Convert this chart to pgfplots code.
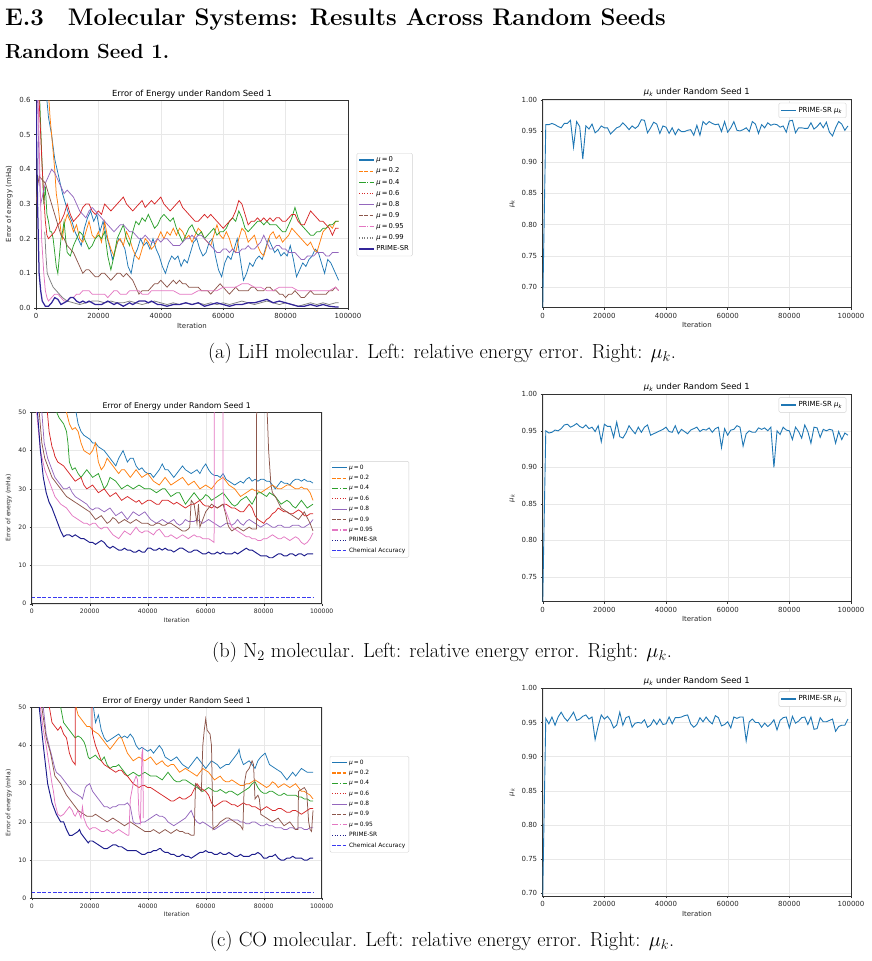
\RequirePackage{fix-cm}
\documentclass[border=0pt]{standalone}
\usepackage{fontspec}
\usepackage{pgfplots}
\pgfplotsset{compat=1.18}
\newfontfamily\plotfont{DejaVu Sans}

% matplotlib tab10 colours
\definecolor{c0}{HTML}{1F77B4}
\definecolor{c1}{HTML}{FF7F0E}
\definecolor{c2}{HTML}{2CA02C}
\definecolor{c3}{HTML}{D62728}
\definecolor{c4}{HTML}{9467BD}
\definecolor{c5}{HTML}{8C564B}
\definecolor{c6}{HTML}{E377C2}
\definecolor{c7}{HTML}{7F7F7F}
\definecolor{prime}{HTML}{33259A}
\definecolor{primedot}{HTML}{1C1C8C}
\definecolor{chem}{HTML}{3A3AF0}

\tikzset{
  mdash/.style={dash pattern=on 3.7pt off 1.6pt},
  mdashdot/.style={dash pattern=on 6.4pt off 1.6pt on 1pt off 1.6pt},
  mdot/.style={dash pattern=on 1pt off 1.65pt},
}

\pgfplotsset{
  mpl/.style={
    scale only axis, anchor=south west,
    xmin=0, xmax=100,
    xtick={0,20,40,60,80,100},
    xticklabels={0,20000,40000,60000,80000,100000},
    axis line style={black!80, line width=0.45pt},
    grid=major, major grid style={black!9, line width=0.35pt},
    tick align=outside, major tick length=2pt,
    tick style={black!80, line width=0.4pt},
    xtick pos=left, ytick pos=left,
    /pgf/number format/assume math mode=true,
    xlabel={Iteration},
    legend cell align=left,
    legend image code/.code={\draw[##1] (0pt,0pt) -- (14.5pt,0pt);},
  },
  big/.style={
    tick label style={font=\plotfont\fontsize{7}{8}\selectfont, text=black!85},
    label style={font=\plotfont\fontsize{7}{8}\selectfont, text=black!85},
    title style={font=\plotfont\fontsize{8.4}{9}\selectfont, yshift=-#1},
    xlabel style={yshift=3pt},
  },
  big/.default=7.5pt,
  small/.style={
    tick label style={font=\plotfont\fontsize{6.1}{7}\selectfont, text=black!85},
    label style={font=\plotfont\fontsize{6.1}{7}\selectfont, text=black!85},
    title style={font=\plotfont\fontsize{7.8}{9}\selectfont, yshift=-7.5pt},
    xlabel style={yshift=3pt},
  },
  errleg/.style n args={2}{legend style={at={(1.028,0.745)}, anchor=north west,
    font=\plotfont\fontsize{#1}{#1}\selectfont, draw=black!18, rounded corners=1.2pt,
    inner sep=1.5pt, row sep=#2, /tikz/every even column/.append style={column sep=2pt}}},
  muleg/.style={legend style={at={(0.985,0.985)}, anchor=north east,
    font=\plotfont\fontsize{7}{7}\selectfont, draw=black!18, rounded corners=1.2pt,
    inner sep=2pt}},
  mukax/.style={mpl, big=6.5pt,
    ylabel={\textit{μ}\textsubscript{\textit{k}}},
    title={\textit{μ}\textsubscript{\textit{k}} under Random Seed 1},
    yticklabel style={/pgf/number format/.cd, fixed, fixed zerofill, precision=2},
    muleg},
  curve/.style={line width=0.75pt, forget plot},
}

\newcommand{\mukey}[1]{\textit{μ}\,=\,#1}
% legend swatch with an explicit stroke colour
\newcommand{\swatch}[2]{\addlegendimage{draw=#1, line width=1.1pt, #2}}

\begin{document}
\begin{tikzpicture}[x=1pt,y=1pt]
\path[use as bounding box] (0,0) rectangle (871,-961);

% headings
\node[anchor=base west, inner sep=0pt] at (5,-25)
  {\fontsize{24}{29}\selectfont\bfseries E.3\hspace{1em}Molecular Systems: Results Across Random Seeds};
\node[anchor=base west, inner sep=0pt] at (5,-58)
  {\fontsize{20.4}{24}\selectfont\bfseries Random Seed 1.};

% ---------------- LiH: energy error ----------------
\begin{axis}[mpl, big, at={(36pt,-308pt)}, width=312pt, height=208pt,
  ymin=0, ymax=0.6, ytick={0,0.1,0.2,0.3,0.4,0.5,0.6},
  yticklabel style={/pgf/number format/.cd, fixed, fixed zerofill, precision=1},
  title={Error of Energy under Random Seed 1},
  ylabel={Error of energy (mHa)}, errleg={6.8}{0.6pt}]
\addplot[curve, c0] coordinates {(1,1.5) (3,0.75) (3.5,0.6) (4,0.55) (5,0.5) (6,0.43) (6.5,0.41) (7.5,0.37) (8.5,0.33) (9.5,0.3) (10.5,0.27) (11.5,0.25) (12.5,0.22) (13.5,0.2) (14.5,0.18) (15.5,0.23) (16.5,0.26) (17.5,0.28) (18.5,0.25) (19.5,0.27) (20.5,0.22) (21.5,0.25) (22.5,0.21) (23.5,0.18) (24.5,0.14) (25.5,0.17) (26.5,0.2) (27.5,0.19) (28.5,0.17) (29.5,0.12) (30.5,0.1) (31.5,0.15) (32.5,0.17) (33.5,0.2) (34.5,0.18) (35.5,0.19) (36.5,0.17) (37.5,0.2) (38.5,0.17) (39.5,0.15) (40.5,0.12) (41.5,0.1) (42.5,0.13) (43.5,0.15) (44.5,0.14) (45.5,0.15) (46.5,0.12) (47.5,0.14) (48.5,0.13) (49.5,0.16) (50.5,0.19) (51.5,0.2) (52.5,0.17) (53.5,0.15) (54.5,0.16) (55.5,0.19) (56.5,0.2) (57.5,0.15) (58.5,0.11) (59.5,0.09) (60.5,0.13) (61.5,0.15) (62.5,0.14) (63.5,0.17) (64.5,0.2) (65.5,0.14) (66.5,0.08) (67.5,0.1) (68.5,0.13) (69.5,0.12) (70.5,0.14) (71.5,0.15) (72.5,0.14) (73.5,0.17) (74.5,0.2) (75.5,0.18) (76.5,0.16) (77.5,0.17) (78.5,0.15) (79.5,0.16) (80.5,0.15) (81.5,0.18) (82.5,0.14) (83.5,0.09) (84.5,0.11) (85.5,0.13) (86.5,0.12) (87.5,0.14) (88.5,0.15) (89.5,0.17) (90.5,0.16) (91.5,0.13) (92.5,0.1) (93.5,0.14) (94.5,0.13) (95.5,0.11) (96.5,0.09) (97,0.08)};
\addplot[curve, c1] coordinates {(2,1.5) (4,0.62) (4.5,0.55) (5,0.5) (5.5,0.45) (6,0.4) (6.5,0.33) (7,0.3) (7.5,0.26) (8,0.22) (8.5,0.2) (9,0.24) (10,0.27) (11,0.25) (12,0.22) (13,0.24) (14,0.2) (15,0.19) (16,0.22) (17,0.25) (18,0.21) (19,0.2) (20,0.22) (21,0.19) (22,0.25) (23,0.2) (24,0.17) (25,0.15) (26,0.19) (27,0.2) (28,0.18) (29,0.22) (30,0.2) (31,0.17) (32,0.15) (33,0.14) (34,0.17) (35,0.2) (36,0.19) (37,0.17) (38,0.18) (39,0.2) (40,0.22) (41,0.2) (42,0.22) (43,0.21) (44,0.23) (45,0.21) (46,0.23) (47,0.22) (48,0.2) (49,0.21) (50,0.19) (51,0.21) (52,0.23) (53,0.22) (54,0.2) (55,0.19) (56,0.18) (57,0.21) (58,0.24) (59,0.21) (60,0.2) (61,0.22) (62,0.2) (63,0.17) (64,0.16) (65,0.2) (66,0.23) (67,0.22) (68,0.19) (69,0.2) (70,0.21) (71,0.18) (72,0.16) (73,0.15) (74,0.18) (75,0.21) (76,0.22) (77,0.2) (78,0.21) (79,0.19) (80,0.2) (81,0.21) (82,0.23) (83,0.22) (84,0.21) (85,0.2) (86,0.19) (87,0.18) (88,0.19) (89,0.17) (90,0.16) (91,0.19) (92,0.22) (93,0.23) (94,0.24) (95,0.23) (96,0.25) (97,0.25)};
\addplot[curve, c2] coordinates {(0.5,1.5) (1.2,0.6) (1.8,0.45) (2.5,0.3) (3,0.35) (3.5,0.27) (4,0.25) (4.5,0.22) (5,0.22) (5.5,0.2) (6,0.16) (6.5,0.12) (7,0.1) (7.5,0.15) (8,0.2) (8.5,0.22) (9,0.25) (9.5,0.2) (10,0.16) (11,0.15) (12,0.18) (13,0.2) (14,0.22) (15,0.21) (16,0.19) (17,0.17) (18,0.18) (19,0.2) (20,0.21) (21,0.2) (22,0.22) (23,0.15) (24,0.11) (25,0.15) (26,0.2) (27,0.22) (28,0.24) (29,0.2) (30,0.18) (31,0.22) (32,0.25) (33,0.24) (34,0.26) (35,0.25) (36,0.27) (37,0.25) (38,0.23) (39,0.24) (40,0.26) (41,0.27) (42,0.26) (43,0.25) (44,0.26) (45,0.23) (46,0.21) (47,0.19) (48,0.21) (49,0.23) (50,0.24) (51,0.22) (52,0.21) (53,0.22) (54,0.2) (55,0.21) (56,0.22) (57,0.23) (58,0.21) (59,0.22) (60,0.22) (61,0.23) (62,0.25) (63,0.26) (64,0.25) (65,0.28) (66,0.26) (67,0.23) (68,0.22) (69,0.23) (70,0.24) (71,0.25) (72,0.25) (73,0.24) (74,0.25) (75,0.24) (76,0.24) (77,0.24) (78,0.23) (79,0.22) (80,0.22) (81,0.24) (82,0.26) (83,0.29) (84,0.26) (85,0.24) (86,0.23) (87,0.22) (88,0.21) (89,0.21) (90,0.22) (91,0.22) (92,0.23) (93,0.23) (94,0.24) (95,0.24) (96,0.25) (97,0.25)};
\addplot[curve, c3] coordinates {(0.3,1.5) (1,0.6) (1.5,0.5) (2,0.4) (2.5,0.32) (3,0.25) (3.5,0.21) (4,0.2) (5,0.21) (6,0.22) (7,0.24) (8,0.25) (9,0.27) (10,0.3) (11,0.27) (12,0.25) (13,0.26) (14,0.27) (15,0.29) (16,0.3) (17,0.3) (18,0.28) (19,0.27) (20,0.28) (21,0.27) (22,0.3) (23,0.29) (24,0.28) (25,0.29) (26,0.3) (27,0.31) (28,0.32) (29,0.3) (30,0.29) (31,0.28) (32,0.29) (33,0.3) (34,0.31) (35,0.29) (36,0.3) (37,0.31) (38,0.3) (39,0.31) (40,0.32) (41,0.3) (42,0.29) (43,0.28) (44,0.29) (45,0.3) (46,0.31) (47,0.29) (48,0.28) (49,0.27) (50,0.26) (51,0.25) (52,0.25) (53,0.26) (54,0.27) (55,0.26) (56,0.27) (57,0.26) (58,0.25) (59,0.24) (60,0.23) (61,0.24) (62,0.25) (63,0.26) (64,0.28) (65,0.31) (66,0.3) (67,0.27) (68,0.24) (69,0.25) (70,0.25) (71,0.26) (72,0.25) (73,0.26) (74,0.25) (75,0.26) (76,0.25) (77,0.26) (78,0.26) (79,0.25) (80,0.25) (81,0.26) (82,0.27) (83,0.27) (84,0.25) (85,0.24) (86,0.24) (87,0.26) (88,0.28) (89,0.27) (90,0.26) (91,0.25) (92,0.25) (93,0.24) (94,0.23) (95,0.21) (96,0.23) (97,0.23)};
\addplot[curve, c4] coordinates {(0,1.2) (0.5,0.6) (1,0.4) (1.5,0.3) (2,0.32) (3,0.36) (4,0.38) (5,0.4) (6,0.39) (7,0.37) (8,0.35) (9,0.33) (10,0.34) (11,0.33) (12,0.32) (13,0.3) (14,0.28) (15,0.27) (16,0.26) (17,0.28) (18,0.29) (19,0.28) (20,0.27) (21,0.26) (22,0.25) (23,0.24) (24,0.23) (25,0.22) (26,0.23) (27,0.24) (28,0.24) (29,0.23) (30,0.22) (31,0.22) (32,0.21) (33,0.2) (34,0.2) (35,0.21) (36,0.2) (37,0.19) (38,0.19) (39,0.2) (40,0.19) (41,0.2) (42,0.2) (43,0.19) (44,0.18) (45,0.18) (46,0.18) (47,0.19) (48,0.2) (49,0.2) (50,0.21) (51,0.2) (52,0.21) (53,0.21) (54,0.2) (55,0.19) (56,0.18) (57,0.17) (58,0.16) (59,0.16) (60,0.17) (61,0.17) (62,0.16) (63,0.17) (64,0.16) (65,0.16) (66,0.17) (67,0.17) (68,0.18) (69,0.17) (70,0.17) (71,0.18) (72,0.19) (73,0.21) (74,0.19) (75,0.17) (76,0.17) (77,0.18) (78,0.18) (79,0.17) (80,0.17) (81,0.16) (82,0.16) (83,0.16) (84,0.15) (85,0.14) (86,0.14) (87,0.15) (88,0.15) (89,0.15) (90,0.16) (91,0.16) (92,0.16) (93,0.15) (94,0.15) (95,0.16) (96,0.16) (97,0.16)};
\addplot[curve, c5] coordinates {(0,0.3) (0.5,0.35) (1,0.38) (2,0.37) (3,0.36) (4,0.33) (5,0.3) (6,0.27) (7,0.24) (8,0.21) (9,0.2) (10,0.18) (11,0.17) (12,0.16) (13,0.14) (14,0.12) (15,0.1) (16,0.11) (17,0.11) (18,0.1) (19,0.09) (20,0.09) (21,0.1) (22,0.1) (23,0.09) (24,0.08) (25,0.09) (26,0.1) (27,0.1) (28,0.09) (29,0.1) (30,0.09) (31,0.08) (32,0.06) (33,0.04) (34,0.05) (35,0.05) (36,0.05) (37,0.06) (38,0.07) (39,0.07) (40,0.08) (41,0.07) (42,0.06) (43,0.07) (44,0.08) (45,0.07) (46,0.08) (47,0.07) (48,0.07) (49,0.06) (50,0.06) (51,0.06) (52,0.06) (53,0.05) (54,0.05) (55,0.05) (56,0.04) (57,0.05) (58,0.06) (59,0.07) (60,0.06) (61,0.05) (62,0.04) (63,0.05) (64,0.06) (65,0.05) (66,0.05) (67,0.05) (68,0.05) (69,0.06) (70,0.06) (71,0.05) (72,0.05) (73,0.05) (74,0.06) (75,0.06) (76,0.05) (77,0.05) (78,0.04) (79,0.04) (80,0.03) (81,0.04) (82,0.04) (83,0.05) (84,0.04) (85,0.03) (86,0.03) (87,0.04) (88,0.05) (89,0.04) (90,0.04) (91,0.04) (92,0.04) (93,0.04) (94,0.05) (95,0.05) (96,0.06) (97,0.05)};
\addplot[curve, c6] coordinates {(0,1.2) (0.7,0.6) (1.2,0.4) (1.8,0.2) (2.5,0.1) (3,0.05) (3.5,0.03) (4,0.02) (5,0.03) (6,0.04) (7,0.04) (8,0.03) (9,0.02) (10,0.02) (11,0.03) (12,0.03) (13,0.04) (14,0.04) (15,0.05) (16,0.05) (17,0.05) (18,0.04) (19,0.04) (20,0.04) (21,0.04) (22,0.04) (23,0.03) (24,0.04) (25,0.05) (26,0.05) (27,0.04) (28,0.04) (29,0.04) (30,0.05) (31,0.05) (32,0.05) (33,0.05) (34,0.04) (35,0.04) (36,0.04) (37,0.05) (38,0.05) (39,0.05) (40,0.05) (42,0.05) (44,0.05) (46,0.04) (48,0.04) (50,0.04) (52,0.05) (54,0.05) (56,0.05) (58,0.05) (60,0.06) (62,0.06) (64,0.06) (66,0.07) (68,0.07) (70,0.06) (72,0.06) (74,0.05) (76,0.05) (78,0.06) (80,0.06) (82,0.06) (84,0.05) (86,0.05) (88,0.05) (90,0.05) (92,0.05) (94,0.05) (96,0.06) (97,0.05)};
\addplot[curve, c7] coordinates {(2.8,0.22) (3.2,0.15) (3.6,0.1) (4.5,0.08) (5.5,0.06) (6.5,0.05) (7.5,0.04) (8.5,0.03) (10,0.02) (12,0.015) (14,0.01) (16,0.015) (18,0.02) (20,0.02) (22,0.015) (24,0.02) (26,0.015) (28,0.015) (30,0.02) (32,0.015) (34,0.01) (36,0.015) (38,0.02) (40,0.015) (42,0.01) (44,0.015) (46,0.01) (48,0.015) (50,0.01) (52,0.015) (54,0.01) (56,0.015) (58,0.01) (60,0.015) (62,0.01) (64,0.015) (66,0.02) (68,0.015) (70,0.01) (72,0.015) (74,0.02) (76,0.015) (78,0.01) (80,0.015) (82,0.01) (84,0.005) (86,0.01) (88,0.015) (90,0.01) (92,0.015) (94,0.01) (96,0.015) (97,0.015)};
\addplot[curve, prime, line width=1.25pt] coordinates {(0,0.6) (0.5,0.3) (1,0.1) (1.5,0.05) (2,0.02) (3,0.005) (4,0.005) (5,0.015) (6,0.03) (7,0.025) (8,0.01) (9,0.015) (10,0.02) (11,0.03) (12,0.03) (13,0.02) (14,0.015) (15,0.02) (16,0.015) (17,0.02) (18,0.015) (19,0.01) (20,0.01) (21,0.01) (22,0.015) (23,0.02) (24,0.015) (25,0.01) (26,0.015) (27,0.01) (28,0.005) (29,0.01) (30,0.015) (31,0.01) (32,0.015) (33,0.02) (34,0.02) (35,0.02) (36,0.015) (37,0.02) (38,0.015) (39,0.01) (40,0.01) (42,0.005) (44,0.01) (46,0.01) (48,0.015) (50,0.01) (52,0.015) (54,0.005) (56,0.01) (58,0.015) (60,0.01) (62,0.005) (64,0.01) (66,0.01) (68,0.015) (70,0.015) (72,0.02) (74,0.025) (76,0.015) (78,0.02) (80,0.015) (82,0.01) (84,0.005) (86,0.005) (88,0.01) (90,0.005) (92,0.01) (94,0.005) (96,0.003) (97,0.003)};
\swatch{c0}{}\addlegendentry{\mukey{0}}
\swatch{c1}{mdash}\addlegendentry{\mukey{0.2}}
\swatch{c2}{mdashdot}\addlegendentry{\mukey{0.4}}
\swatch{c3}{mdot}\addlegendentry{\mukey{0.6}}
\swatch{c4}{}\addlegendentry{\mukey{0.8}}
\swatch{c5}{mdash}\addlegendentry{\mukey{0.9}}
\swatch{c6}{mdashdot}\addlegendentry{\mukey{0.95}}
\swatch{c7}{mdot}\addlegendentry{\mukey{0.99}}
\swatch{prime}{line width=1.4pt}\addlegendentry{PRIME-SR}
\end{axis}

% ---------------- LiH: mu_k ----------------
\begin{axis}[mukax, at={(542.7pt,-307.7pt)}, width=308.3pt, height=208pt,
  ymin=0.667, ymax=1.0, ytick={0.7,0.75,0.8,0.85,0.9,0.95,1.0}]
\addplot[c0, line width=0.9pt, forget plot] table[row sep=\\, header=false, x expr=\coordindex, y index=0] {
0.667\\0.960\\0.960\\0.962\\0.960\\0.957\\0.955\\0.962\\0.962\\0.967\\
0.924\\0.965\\0.957\\0.905\\0.958\\0.953\\0.961\\0.947\\0.951\\0.958\\
0.955\\0.955\\0.945\\0.950\\0.955\\0.957\\0.963\\0.958\\0.952\\0.958\\
0.954\\0.958\\0.968\\0.967\\0.947\\0.955\\0.964\\0.961\\0.946\\0.958\\
0.956\\0.946\\0.955\\0.944\\0.953\\0.949\\0.949\\0.951\\0.952\\0.943\\
0.959\\0.943\\0.965\\0.960\\0.965\\0.962\\0.960\\0.961\\0.949\\0.965\\
0.948\\0.955\\0.965\\0.951\\0.950\\0.952\\0.955\\0.949\\0.965\\0.961\\
0.946\\0.960\\0.955\\0.963\\0.959\\0.961\\0.960\\0.956\\0.958\\0.948\\
0.966\\0.967\\0.947\\0.955\\0.955\\0.954\\0.954\\0.963\\0.953\\0.957\\
0.963\\0.955\\0.964\\0.948\\0.942\\0.955\\0.965\\0.961\\0.951\\0.958\\
};
\swatch{c0}{}\addlegendentry{PRIME-SR \textit{μ}\textsubscript{\textit{k}}}
\end{axis}

% ---------------- N2: energy error ----------------
\begin{axis}[mpl, small, at={(31.7pt,-603.7pt)}, width=290pt, height=191.4pt,
  ymin=0, ymax=50, ytick={0,10,20,30,40,50},
  title={Error of Energy under Random Seed 1},
  ylabel={Error of energy (mHa)}, errleg={5.9}{0.5pt}]
\addplot[curve, c0] coordinates {(14,60) (15.3,50) (16,47) (17,45) (18,44) (19,43.5) (20,43) (21,42) (22,42) (23,41) (24,40.5) (25,40) (26,39) (27,38) (28,37) (29,36) (30,38) (31.5,40) (32,39) (33,37) (34,38) (35,38) (36,36) (37,35) (38,35.5) (39,34.5) (40,34) (41,34) (42,33) (43,34) (44,35) (45,36.5) (46,35) (47,35) (48,34) (49,33) (50,34) (51,35) (52,36) (53,35) (54,34.5) (55,34) (56,34.5) (57,35) (58,34) (59,35.5) (60,36.5) (61,35) (62,34) (63,33.5) (64,33.5) (65,33) (66,34) (67,32.5) (68,32) (69,31.5) (70,31) (71,31.5) (72,32) (73,31.5) (74,32.5) (75,33) (76,32) (77,32.5) (78,32) (79,32.5) (80,32.5) (81,32) (82,32) (83,31) (84,30) (85,31) (86,32) (87,31.5) (88,31.5) (89,31) (90,32) (91,32.5) (92,32.5) (93,32) (94,32.5) (95,32) (96,32) (97,31.5)};
\addplot[curve, c1] coordinates {(11,60) (12,50) (13,47) (14,45.5) (15,46) (16,45) (17,42) (18,40) (19,39.5) (20,39) (21,40) (22,42) (23,37) (24,35) (25,36) (26,38) (27,37) (28,36) (29,35) (30,34) (31,35) (32,35) (33,34) (34,33) (35,34) (36,35) (37,34) (38,33) (39,33.5) (40,34) (41,33) (42,32) (43,31.5) (44,31) (45,32) (46,33) (47,32) (48,31) (49,31.5) (50,32) (51,32.5) (52,33) (53,32) (54,31) (55,31.5) (56,32) (57,31) (58,30) (59,30.5) (60,31) (61,30.5) (62,30) (63,31) (64,32) (65,32.5) (66,33) (67,32) (68,31) (69,30.5) (70,30) (71,29) (72,28) (73,28.5) (74,29) (75,29.5) (76,30) (77,29.5) (78,29.5) (79,29) (80,29.5) (81,30) (82,30.5) (83,31) (84,30.5) (85,30) (86,30) (87,30.5) (88,31) (89,31) (90,30.5) (91,30) (92,30) (93,30.5) (94,30) (95,30) (96,29) (97,27)};
\addplot[curve, c2] coordinates {(8,60) (8.6,50) (9.5,48.5) (10,48) (11,47) (12,45) (12.5,42) (13,37) (14,35) (15,35.5) (16,34) (17,33) (18,34) (19,35) (20,34) (21,33) (22,33.5) (23,34) (24,32) (25,30) (26,31) (27,33) (28,32.5) (29,32) (30,31) (31,30) (32,30.5) (33,31) (34,30.5) (35,30) (36,30.5) (37,31) (38,30.5) (39,30) (40,30) (41,30) (42,29.5) (43,29) (44,29.5) (45,30) (46,30) (47,29) (48,28) (49,28.5) (50,29) (51,29) (52,27.5) (53,26) (54,27) (55,28) (56,29) (57,28) (58,27) (59,27.5) (60,28.5) (61,28) (62,27) (63,27.5) (64,28) (65,28.5) (66,29) (67,28) (68,27) (69,26) (70,25.5) (71,26) (72,27) (73,27.5) (74,28) (75,27) (76,26) (77,27.5) (78,29) (79,29) (80,28.5) (81,28) (82,29) (83,28.5) (84,28) (85,27) (86,26) (87,26.5) (88,27) (89,26.5) (90,25.5) (91,25) (92,26) (93,27) (94,26) (95,25) (96,25.5) (97,26)};
\addplot[curve, c3] coordinates {(4.5,60) (5.4,50) (6,45) (7,41) (7.5,40) (8,38.5) (9,37) (10,36.5) (11,36) (12,35) (13,34) (14,33) (15,32) (16,32.5) (17,33) (18,31) (19,30) (20,30.5) (21,31) (22,30) (23,29) (24,29.5) (25,30) (26,29) (27,28) (28,28.5) (29,29) (30,28) (31,27) (32,27.5) (33,28) (34,27.5) (35,27) (36,26.5) (37,27) (38,26) (39,26.5) (40,27) (41,27) (42,26.5) (43,26) (44,26) (45,27) (46,27) (47,27) (48,26.5) (49,26) (50,26.5) (51,26) (52,25.5) (53,25) (54,25.5) (55,26) (56,26) (57,26.5) (58,27) (59,26) (60,25.5) (61,25.5) (62,25) (63,25.5) (64,25) (65,25.5) (66,26) (67,26) (68,25.5) (69,25) (70,25) (71,24.5) (72,24) (73,24) (74,25) (75,26) (76,25) (77,23) (78,22) (79,21.5) (80,21) (81,22) (82,22.5) (83,23.5) (84,24) (85,25) (86,24.5) (87,24) (88,24) (89,23.5) (90,23.5) (91,24) (92,24.5) (93,24) (94,23) (95,23) (96,23.5) (97,23.5)};
\addplot[curve, c4] coordinates {(3,60) (3.5,50) (4.3,42) (5.5,38) (7,35) (8,33) (9,32) (10,31) (11,30) (12,30) (13,30.5) (14,29) (15,28) (16,27.5) (17,27) (18,26.5) (19,26) (20,25) (21,24.5) (22,25) (23,25) (24,24.5) (25,24) (26,24.5) (27,25) (28,24) (29,23) (30,23.5) (31,24) (32,23) (33,22) (34,23) (35,24) (36,23.5) (37,23) (38,23.5) (39,24) (40,23) (41,22) (42,21.5) (43,21) (44,21.5) (45,22) (46,21.5) (47,21) (48,21.5) (49,22) (50,21) (51,20.5) (52,21) (53,22) (54,21.5) (55,21.5) (56,21.5) (57,22) (58,21.5) (59,21) (60,21.5) (61,22) (62,21.5) (63,21) (64,20.5) (65,20) (66,20.5) (67,21) (68,21) (69,20.5) (70,21) (71,22) (72,21) (73,20.5) (74,21.5) (75,22) (76,21.5) (77,21) (78,20.5) (79,20) (80,20.5) (81,21) (82,20.5) (83,20) (84,20) (85,20.5) (86,20.5) (87,20) (88,20) (89,20) (90,20.5) (91,20.5) (92,20.5) (93,20) (94,20) (95,20.5) (96,21) (97,22)};
\addplot[curve, c5] coordinates {(2,60) (2.6,50) (3.5,42) (4.5,38) (6,35) (7,33) (8,32) (9,31) (10,30) (11,29) (12,28) (13,27.5) (14,27) (15,26.5) (16,26) (17,25.5) (18,25) (19,24.5) (20,24) (21,23) (22,22) (23,22.5) (24,23) (25,22) (26,21) (27,21.5) (28,22.5) (29,22) (30,21) (31,21.5) (32,22) (33,21.5) (34,21) (35,21.5) (36,22) (37,21.5) (38,21) (39,21) (40,21) (41,20.5) (42,20.5) (43,21) (44,21) (45,20.5) (46,20.5) (47,21) (48,21) (49,20.5) (50,20) (51,19.5) (52,19) (53,19) (54,19.5) (54.5,20) (55,27) (56,26) (57,21) (57.5,26) (58,20) (59,22) (60,24) (61,25) (62,26) (63,25.5) (64,25) (65,25.5) (66,26) (67,23) (67.5,21) (68,20) (69,19) (70,19.5) (71,20) (72,19.5) (73,19) (74,19.5) (75,20) (76,19.5) (77,19.5) (77.5,19.5) (77.6,70) (81,70) (81.2,50) (81.7,40) (82.5,31) (83,29) (84,28) (85,26.5) (86,25) (87,24.5) (88,24) (89,23.5) (90,23) (91,22.5) (92,22) (93,23) (94,24) (95,22.5) (96,21) (97,19)};
\addplot[curve, c6] coordinates {(1,60) (1.7,50) (3,40) (4.5,35) (6,32) (7,30) (8,28) (9,27) (10,26) (11,25.5) (12,25) (13,24) (14,23) (15,22.5) (16,22) (17,21.5) (18,21) (19,21) (20,20.5) (21,21) (22,21) (23,20) (24,19.5) (25,20) (26,20) (27,19) (28,18) (29,17.5) (30,17) (31,18) (32,19) (33,18.5) (34,18) (35,19) (36,20) (37,19) (38,18.5) (39,19) (40,19) (41,18.5) (42,18) (43,19) (44,19.5) (45,18.5) (46,17.5) (47,17.5) (48,18) (49,17.5) (50,17) (51,17.5) (52,18) (53,17.5) (54,17) (55,17.5) (56,18) (57,17.5) (58,17.5) (59,17) (60,17) (61,17) (62,16.5) (62.9,16) (63,70) (65.9,70) (66,30) (66.5,25) (67,24) (68,22) (69,20) (70,19.5) (71,19) (72,18.5) (73,18) (74,17.5) (75,17.5) (76,17) (77,17) (78,16.5) (79,16.5) (80,17) (81,17) (82,17.5) (83,18) (84,17.5) (85,17) (86,17) (87,17.5) (88,17) (89,16.5) (90,17) (91,17.5) (92,17) (93,16) (94,15.5) (95,16) (96,17) (97,18.5)};
\addplot[curve, primedot, line width=0.95pt] coordinates {(1.5,60) (2,50) (3,40) (4,33) (5,29) (6,26.5) (7,25) (8,23) (9,21) (10,19) (11,17.5) (12,18) (13,18) (14,17.5) (15,18) (16,17.5) (17,17) (18,17) (19,16.5) (20,16) (21,16) (22,15.5) (23,16) (24,16.5) (25,16) (26,15) (27,14.5) (28,15) (29,14.5) (30,14) (31,14) (32,14.5) (33,14) (34,14) (35,13.5) (36,13.5) (37,14) (38,13.5) (39,13.5) (40,14.5) (41,14.5) (42,14) (43,14) (44,14.5) (45,14) (46,14.5) (47,14) (48,14) (49,13.5) (50,14) (51,14.5) (52,14.5) (53,14) (54,13.5) (55,13.5) (56,14) (57,14) (58,13.5) (59,13) (60,13) (61,13.5) (62,13) (63,13) (64,13.5) (65,13) (66,13.5) (67,13) (68,13) (69,13) (70,13.5) (71,13) (72,13.5) (73,14) (74,14.5) (75,14) (76,14) (77,13.5) (78,13) (79,12.5) (80,12.5) (81,12.5) (82,12) (83,12) (84,12.5) (85,13) (86,13) (87,12.5) (88,12.5) (89,13) (90,13) (91,12.5) (92,13) (93,13) (94,12.5) (95,13) (96,13) (97,13)};
\addplot[curve, chem, line width=0.8pt, mdash] coordinates {(0,1.6) (97,1.6)};
\swatch{c0}{}\addlegendentry{\mukey{0}}
\swatch{c1}{mdash}\addlegendentry{\mukey{0.2}}
\swatch{c2}{mdashdot}\addlegendentry{\mukey{0.4}}
\swatch{c3}{mdot}\addlegendentry{\mukey{0.6}}
\swatch{c4}{}\addlegendentry{\mukey{0.8}}
\swatch{c5}{mdash}\addlegendentry{\mukey{0.9}}
\swatch{c6}{mdashdot}\addlegendentry{\mukey{0.95}}
\swatch{primedot}{mdot}\addlegendentry{PRIME-SR}
\swatch{chem}{mdash}\addlegendentry{Chemical Accuracy}
\end{axis}

% ---------------- N2: mu_k ----------------
\begin{axis}[mukax, at={(542.7pt,-601.7pt)}, width=308.3pt, height=207.4pt,
  ymin=0.716, ymax=1.0, ytick={0.75,0.8,0.85,0.9,0.95,1.0}]
\addplot[c0, line width=0.9pt, forget plot] table[row sep=\\, header=false, x expr=\coordindex, y index=0] {
0.716\\0.950\\0.947\\0.948\\0.951\\0.950\\0.953\\0.958\\0.959\\0.955\\
0.957\\0.960\\0.956\\0.954\\0.958\\0.953\\0.955\\0.949\\0.957\\0.935\\
0.959\\0.956\\0.956\\0.941\\0.962\\0.942\\0.940\\0.947\\0.957\\0.951\\
0.946\\0.955\\0.948\\0.955\\0.958\\0.944\\0.946\\0.948\\0.950\\0.952\\
0.955\\0.949\\0.948\\0.957\\0.946\\0.952\\0.949\\0.946\\0.951\\0.953\\
0.955\\0.949\\0.952\\0.951\\0.954\\0.948\\0.953\\0.955\\0.927\\0.953\\
0.944\\0.951\\0.952\\0.957\\0.955\\0.929\\0.946\\0.950\\0.948\\0.948\\
0.954\\0.952\\0.954\\0.950\\0.955\\0.900\\0.950\\0.945\\0.955\\0.951\\
0.950\\0.938\\0.955\\0.949\\0.940\\0.958\\0.949\\0.933\\0.955\\0.954\\
0.941\\0.952\\0.950\\0.952\\0.951\\0.933\\0.949\\0.938\\0.947\\0.944\\
};
\swatch{c0}{}\addlegendentry{PRIME-SR \textit{μ}\textsubscript{\textit{k}}}
\end{axis}

% ---------------- CO: energy error ----------------
\begin{axis}[mpl, small, at={(31.7pt,-898.3pt)}, width=290pt, height=191pt,
  ymin=0, ymax=50, ytick={0,10,20,30,40,50},
  title={Error of Energy under Random Seed 1},
  ylabel={Error of energy (mHa)}, errleg={5.9}{0.5pt}]
\addplot[curve, c0] coordinates {(20,60) (21.3,50) (22,46) (23,48) (24,44) (25,42) (26,41) (27,41.5) (28,42) (29,42.5) (30,43) (31,42) (32,42.5) (33,42) (34,43) (35,42) (36,40) (37,39) (38,39.5) (39,39) (40,38.5) (41,39) (42,38) (43,39) (44,40) (45,39) (46,37) (47,36.5) (48,36) (49,36.5) (50,37) (51,36) (52,35) (53,34.5) (54,34) (55,35) (56,36) (57,37) (58,36) (59,35) (60,34) (61,35) (62,36) (63,35.5) (64,35) (65,34) (66,34.5) (67,35) (68,35) (69,36) (70,37) (71,38) (71.5,39) (72,37) (73,35) (74,35.5) (75,36) (76,35) (77,34) (78,36) (79,37) (80.5,38) (81,37) (82,35) (83,34.5) (84,34) (85,33.5) (86,33) (87,32) (88,31) (89,32) (90,33) (91,32) (92,33) (93,34) (94,33.5) (95,33) (96,33) (97,33)};
\addplot[curve, c1] coordinates {(14.5,60) (15.3,50) (16,48) (17,47) (18,46) (19,45) (20,45) (21,44) (22,43.5) (23,43) (24,42) (25,41) (26,40) (27,39) (28,40) (29,41) (30,42) (31,42) (32,40) (33,38) (34,37) (35,36) (36,36.5) (37,37) (38,36.5) (39,36) (40,36.5) (41,37) (42,36) (43,35) (44,35.5) (45,36) (46,35) (47,34.5) (48,35) (49,35) (50,34) (51,33) (52,33.5) (53,34) (54,33.5) (55,33) (56,32.5) (57,32) (58,33) (59,34) (60,33.5) (61,33) (62,32) (63,31) (64,31.5) (65,32) (66,31) (67,30.5) (68,30.5) (69,31) (70,30.5) (71,30) (72,29.5) (73,29.5) (74,30) (75,30) (76,30.5) (77,31) (78,30.5) (79,30) (80,29.5) (81,29) (82,29.5) (83,30.5) (84,30) (85,29) (86,29.5) (87,30) (88,29.5) (89,29) (90,29.5) (91,30) (92,29) (93,28) (94,28) (95,27.5) (96,27) (97,26)};
\addplot[curve, c2] coordinates {(9.5,60) (10,50) (11,46) (12,45) (13,44) (14,43) (15,42) (16,42.5) (17,42) (18,41) (18.5,40) (19.5,37) (20,36.5) (21,37) (22,37.5) (23,36.5) (24,36) (25,37) (26,35) (27,34) (28,34.5) (29,34.5) (30,35) (31,34) (32,33) (33,32) (34,32.5) (35,33) (36,32.5) (37,32) (38,32.5) (39,33) (40,32.5) (41,32) (42,32) (43,32) (44,31.5) (45,31) (46,32) (47,33) (48,32) (49,31) (50,30.5) (51,30.5) (52,31) (53,31) (54,30.5) (55,30) (56,29.5) (57,29) (58,28.5) (59,28) (60,28.5) (61,29) (62,28.5) (63,28) (64,28) (65,28.5) (66,28) (67,27.5) (68,28) (69,28) (70,27.5) (71,27) (72,27.5) (73,28) (74,28.5) (75,29) (76,30) (77,30.5) (78,29) (79,28) (80,27.5) (81,27.5) (82,28) (83,28) (84,27.5) (85,27) (86,27) (87,27.5) (88,27) (89,27) (90,27) (91,27) (92,26.5) (93,26.5) (94,26) (95,26) (96,25.5) (97,25.5)};
\addplot[curve, c3] coordinates {(5,60) (6.1,50) (7,46) (8,45) (9,44) (10,45) (11,43) (12,42) (13,38) (14,36) (15,35) (15.05,70) (20.7,70) (20.8,45) (21,43) (22,40) (23,38) (24,36) (25,35) (26,34.5) (27,34) (28,33.5) (29,33) (30,33.5) (31,33.5) (32,32.5) (33,32) (34,31) (35,30) (36,29.5) (37,29) (38,29.5) (39,29.5) (40,29) (41,29) (42,28.5) (43,28) (44,27.5) (45,27) (46,26.5) (47,26) (48,25.5) (49,25.5) (50,26) (51,26.5) (52,26) (53,26) (54,26.5) (55,27) (56,28.5) (57,30) (58,29) (59,28.5) (60,28) (61,27) (62,25) (63,24) (64,24.5) (65,25) (66,25.5) (67,25.5) (68,25) (69,24.5) (70,24.5) (71,24) (72,24.5) (73,25) (74,24.5) (75,24.5) (76,24) (77,24) (78,23.5) (79,23) (80,23.5) (81,24) (82,23.5) (83,23) (84,23) (85,23.5) (86,23.5) (87,23) (88,22.5) (89,22.5) (90,23) (91,23) (92,22.5) (93,22) (94,22.5) (95,23) (96,23.5) (97,23.5)};
\addplot[curve, c4] coordinates {(3.5,60) (4,50) (5,43) (6,40) (7,37) (8,34) (8.5,33) (10,32) (11,31) (12,30) (13,29) (14,28) (15,27.5) (16,27) (17,26.5) (17.5,26) (18.5,29) (19,29.5) (20,30) (21,28) (22,27) (23,26) (24,25) (25,24) (26,24) (27,23.5) (28,24) (29,24) (30,24.5) (31,24.5) (32,24.5) (33,25) (34,24) (35,20) (36,19.5) (37,19.5) (38,20) (39,20) (40,20.5) (41,21) (42,21.5) (43,22) (44,21.5) (45,21.5) (46,21) (47,20) (48,19.5) (49,19) (50,19.5) (51,20) (52,20.5) (53,21) (54,22) (55,23) (56,21) (57,20) (58,19.5) (59,20) (60,19.5) (61,19) (62,18.5) (63,18) (64,18.5) (65,19) (66,19.5) (67,20) (68,20.5) (69,20.5) (70,20.5) (71,20.5) (72,20) (73,20) (74,19.5) (75,19.5) (76,20) (77,20) (78,19.5) (79,19) (80,19) (81,19.5) (82,19) (83,19) (84,18.5) (85,18.5) (86,18.5) (87,18) (88,18) (89,18.5) (90,18.5) (91,18) (92,18.5) (93,18.5) (94,18) (95,18) (96,18.5) (97,18.5)};
\addplot[curve, c5] coordinates {(3,60) (3.5,50) (5,42) (6.5,38) (8,32) (9,31) (10,30) (11,28.5) (12,27) (13,26) (14,25) (15,24) (16,23) (17,22.5) (18,22) (19,21.5) (20,21.5) (21,21.5) (22,22) (23,21.5) (24,21) (25,20.5) (26,20) (27,20.5) (28,21) (29,20.5) (30,20) (31,19.5) (32,19) (33,19.5) (34,20) (35,19.5) (36,19) (37,18.5) (38,18) (39,17.5) (40,17.5) (41,17.5) (42,18) (43,17.5) (44,17) (45,17.5) (46,18) (47,17.5) (48,17) (49,17.5) (50,18) (51,17.5) (52,17.5) (53,17) (54,17) (55,16.5) (56,16.5) (56.5,30) (57.5,29) (58.5,28) (59,40) (59.5,44) (60,47) (60.5,44) (61.5,43) (62,40) (62.5,18) (63,18.5) (64,19) (65,20) (66,20.5) (67,21) (68,21) (69,20.5) (70,20) (71,19.5) (72,19) (72.8,18) (73.3,30) (74,33) (75,34) (76,36) (76.5,35) (77,26) (78,27) (78.5,26) (79,22) (80,21.5) (81,21) (82,20.5) (83,20) (84,20.5) (85,21) (86,20) (87,19) (88,19.5) (89,20) (90,19) (91,18) (91.8,18) (92,28) (93,28.5) (94,29) (94.8,28) (95.5,20) (96,18) (96.5,17.5) (97,23)};
\addplot[curve, c6] coordinates {(2.5,60) (3,50) (4,44) (5,40) (6,35) (7,30) (7.5,28) (8,25) (9,22) (10,21.5) (11,22) (12,23) (13,24) (14,23) (14.5,22) (15,21.5) (16,23) (17,21) (17.5,24) (18,21) (19,19) (20,18) (21,18.5) (22,18.5) (23,18) (24,17.5) (25,17.5) (26,18) (27,17.5) (28,17) (29,17.5) (30,18) (31,17.5) (32,17) (33,16.5) (33.5,16.5) (34,26) (35,30) (36,32) (36.5,31) (37,22) (37.5,20) (38,38) (38.3,39) (38.5,21)};
\addplot[curve, primedot, line width=0.95pt] coordinates {(2,60) (2.6,50) (4,40) (5.5,30) (7,25) (8.5,22) (10,20) (11,20) (12,18) (13,16.5) (14,16.5) (15,17) (16,17.5) (16.5,18) (17,17) (18,16) (19,15) (19.5,14.5) (20,15) (21,15) (22,14.5) (23,14) (24,13.5) (25,13) (26,13) (27,13.5) (28,14) (29,14) (30,13.5) (31,13.5) (32,13) (33,12.5) (34,12.5) (35,12.5) (36,12.5) (37,12) (38,11.5) (39,11.5) (40,12) (41,12) (42,12.5) (43,12.5) (44,13) (44.5,13) (45,12.5) (46,12) (47,12) (48,11.5) (49,11.5) (50,11) (51,11) (52,11.5) (53,11) (54,11) (55,10.5) (56,11) (57,11.5) (58,12) (59,12) (60,12.5) (61,12) (62,12) (63,11.5) (64,11.5) (65,12) (66,11.5) (67,11.5) (68,12) (69,11.5) (70,11) (71,11) (72,11.5) (73,11) (74,11) (75,11) (76,11.5) (77,11.5) (78,12) (79,11.5) (80,10.5) (81,10.5) (82,11) (83,11) (84,11.5) (85,10.5) (86,10) (87,10) (88,10.5) (89,10.5) (90,11) (91,10.5) (92,10.5) (93,10.5) (94,10) (95,10) (96,10.5) (97,10.5)};
\addplot[curve, chem, line width=0.8pt, mdash] coordinates {(0,1.6) (97,1.6)};
\swatch{c0}{}\addlegendentry{\mukey{0}}
\swatch{c1}{mdash}\addlegendentry{\mukey{0.2}}
\swatch{c2}{mdashdot}\addlegendentry{\mukey{0.4}}
\swatch{c3}{mdot}\addlegendentry{\mukey{0.6}}
\swatch{c4}{}\addlegendentry{\mukey{0.8}}
\swatch{c5}{mdash}\addlegendentry{\mukey{0.9}}
\swatch{c6}{mdashdot}\addlegendentry{\mukey{0.95}}
\swatch{primedot}{mdot}\addlegendentry{PRIME-SR}
\swatch{chem}{mdash}\addlegendentry{Chemical Accuracy}
\end{axis}

% ---------------- CO: mu_k ----------------
\begin{axis}[mukax, at={(542.7pt,-896pt)}, width=308.3pt, height=207.7pt,
  ymin=0.696, ymax=1.0, ytick={0.7,0.75,0.8,0.85,0.9,0.95,1.0}]
\addplot[c0, line width=0.9pt, forget plot] table[row sep=\\, header=false, x expr=\coordindex, y index=0] {
0.697\\0.956\\0.948\\0.958\\0.946\\0.958\\0.965\\0.957\\0.952\\0.958\\
0.965\\0.953\\0.955\\0.959\\0.961\\0.955\\0.958\\0.925\\0.945\\0.961\\
0.955\\0.959\\0.953\\0.942\\0.946\\0.965\\0.946\\0.957\\0.959\\0.943\\
0.949\\0.950\\0.949\\0.954\\0.943\\0.946\\0.954\\0.947\\0.955\\0.947\\
0.948\\0.958\\0.948\\0.957\\0.957\\0.958\\0.960\\0.961\\0.948\\0.943\\
0.947\\0.957\\0.951\\0.958\\0.952\\0.948\\0.960\\0.957\\0.945\\0.947\\
0.951\\0.942\\0.958\\0.956\\0.958\\0.958\\0.923\\0.951\\0.955\\0.950\\
0.950\\0.943\\0.949\\0.944\\0.948\\0.954\\0.939\\0.953\\0.957\\0.958\\
0.942\\0.959\\0.949\\0.952\\0.957\\0.958\\0.947\\0.958\\0.940\\0.941\\
0.957\\0.951\\0.951\\0.953\\0.955\\0.937\\0.944\\0.946\\0.946\\0.955\\
};
\swatch{c0}{}\addlegendentry{PRIME-SR \textit{μ}\textsubscript{\textit{k}}}
\end{axis}

% sub-figure captions
\node[anchor=base, inner sep=0pt] at (442,-358)
  {\fontsize{20.4}{24}\selectfont (a) LiH molecular. Left: relative energy error. Right: $\mu_k$.};
\node[anchor=base, inner sep=0pt] at (442,-657)
  {\fontsize{20.4}{24}\selectfont (b) N$_2$ molecular. Left: relative energy error. Right: $\mu_k$.};
\node[anchor=base, inner sep=0pt] at (442,-946)
  {\fontsize{20.4}{24}\selectfont (c) CO molecular. Left: relative energy error. Right: $\mu_k$.};
\end{tikzpicture}
\end{document}
